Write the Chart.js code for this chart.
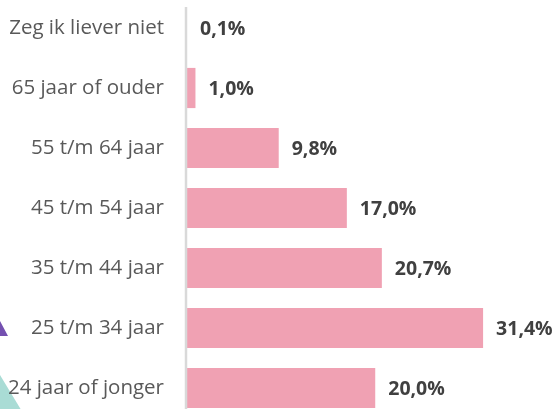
<!DOCTYPE html>
<html>
<head>
<meta charset="utf-8">
<script src="https://cdn.jsdelivr.net/npm/chart.js@4/dist/chart.umd.min.js"></script>
<style>
  html, body { margin: 0; padding: 0; background: #fff; overflow: hidden; }
  #wrap { position: absolute; left: 0; top: -2px; width: 560px; height: 420px; }
</style>
</head>
<body>
<div id="wrap"><canvas id="chart"></canvas></div>
<script>
// Leeftijdsgroepen en percentages
const categories = [
  "Zeg ik liever niet",
  "65 jaar of ouder",
  "55 t/m 64 jaar",
  "45 t/m 54 jaar",
  "35 t/m 44 jaar",
  "25 t/m 34 jaar",
  "24 jaar of jonger"
];
const percentages = [0.1, 1.0, 9.8, 17.0, 20.7, 31.4, 20.0];

// Achtergrond-driehoekjes linksonder
const decoration = {
  id: "decoration",
  beforeDraw(chart) {
    const c = chart.ctx;
    c.save();
    c.fillStyle = "#a9dcd5";
    c.beginPath();
    c.moveTo(0, 377);
    c.lineTo(26, 420);
    c.lineTo(0, 420);
    c.closePath();
    c.fill();
    c.fillStyle = "#7450b0";
    c.beginPath();
    c.moveTo(0, 323);
    c.lineTo(8, 338);
    c.lineTo(0, 338);
    c.closePath();
    c.fill();
    c.restore();
  }
};

// As-lijn en waardelabels
const valueLabels = {
  id: "valueLabels",
  afterDatasetsDraw(chart) {
    const c = chart.ctx;
    const x0 = chart.scales.x.getPixelForValue(0);
    c.save();
    c.strokeStyle = "#d9d9d9";
    c.lineWidth = 2.5;
    c.beginPath();
    c.moveTo(x0, 9);
    c.lineTo(x0, 420);
    c.stroke();

    c.fillStyle = "#404040";
    c.font = "bold 19.5px 'Open Sans'";
    c.textBaseline = "middle";
    chart.getDatasetMeta(0).data.forEach((bar, i) => {
      const txt = percentages[i].toFixed(1).replace(".", ",") + "%";
      c.fillText(txt, Math.max(bar.x, x0 + 1) + 13, bar.y + 1);
    });
    c.restore();
  }
};

new Chart(document.getElementById("chart"), {
  type: "bar",
  data: {
    labels: categories,
    datasets: [
      {
        data: percentages,
        backgroundColor: "#f0a1b3",
        borderWidth: 0,
        barPercentage: 0.67,
        categoryPercentage: 1
      }
    ]
  },
  options: {
    indexAxis: "y",
    responsive: true,
    maintainAspectRatio: false,
    animation: false,
    layout: { padding: { left: 0, right: 5, top: 0, bottom: 0 } },
    plugins: {
      legend: { display: false },
      tooltip: { enabled: false }
    },
    scales: {
      x: {
        display: false,
        min: 0,
        max: 39
      },
      y: {
        afterFit(scale) {
          scale.width = 186;
          scale.paddingTop = 0;
          scale.paddingBottom = 0;
        },
        grid: { display: false },
        border: { display: false },
        ticks: {
          color: "#595959",
          padding: 14,
          font: { family: "Open Sans", size: 20.5 }
        }
      }
    }
  },
  plugins: [decoration, valueLabels]
});
</script>
</body>
</html>
